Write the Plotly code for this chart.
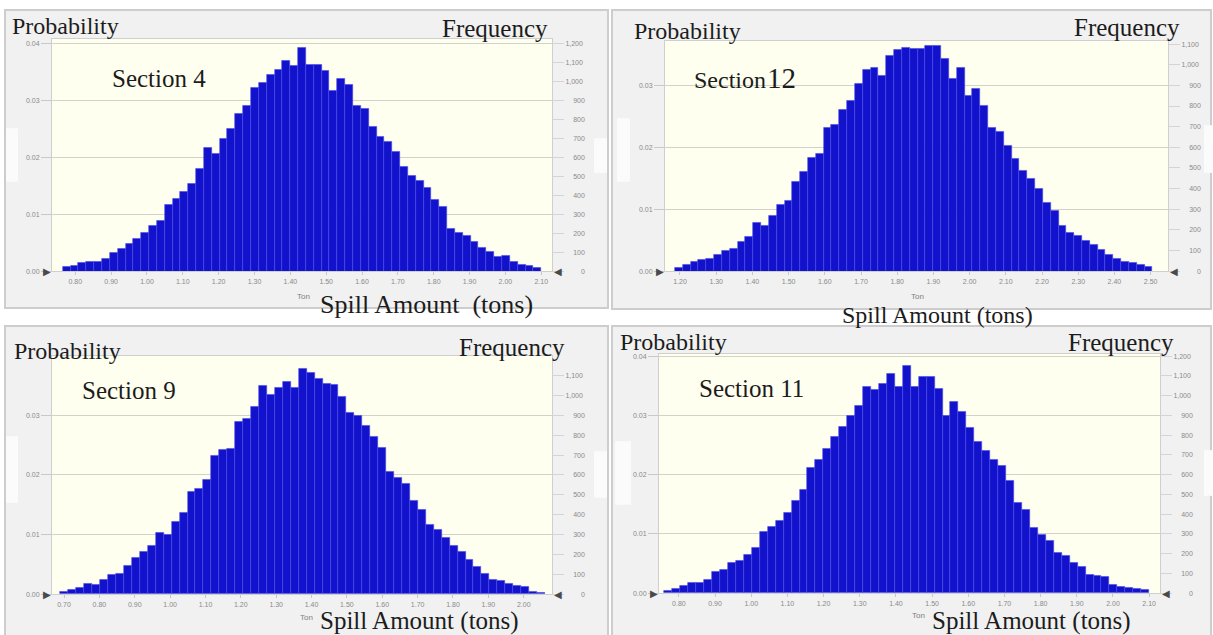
import numpy as np
import plotly.graph_objects as go

W, H = 1213, 635

# ---------------- data: probability per bin ----------------
sec4_prob = [0.0008, 0.0010, 0.0015, 0.0016, 0.0017, 0.0022, 0.0032, 0.0040, 0.0048, 0.0057,
             0.0068, 0.0080, 0.0088, 0.0117, 0.0127, 0.0139, 0.0153, 0.0180, 0.0216, 0.0207,
             0.0233, 0.0250, 0.0277, 0.0290, 0.0322, 0.0331, 0.0344, 0.0353, 0.0369, 0.0360,
             0.0392, 0.0363, 0.0363, 0.0351, 0.0316, 0.0338, 0.0328, 0.0290, 0.0285, 0.0254,
             0.0236, 0.0227, 0.0210, 0.0184, 0.0168, 0.0158, 0.0146, 0.0126, 0.0114, 0.0075,
             0.0068, 0.0062, 0.0052, 0.0042, 0.0034, 0.0025, 0.0028, 0.0017, 0.0012, 0.0010,
             0.0006]
sec12_prob = [0.0005, 0.0011, 0.0016, 0.0019, 0.0021, 0.0026, 0.0033, 0.0037, 0.0047, 0.0055,
              0.0078, 0.0074, 0.0089, 0.0107, 0.0114, 0.0145, 0.0160, 0.0184, 0.0189, 0.0232,
              0.0237, 0.0261, 0.0275, 0.0302, 0.0326, 0.0328, 0.0315, 0.0347, 0.0358, 0.0360,
              0.0359, 0.0359, 0.0364, 0.0364, 0.0343, 0.0310, 0.0328, 0.0283, 0.0294, 0.0267,
              0.0232, 0.0225, 0.0202, 0.0181, 0.0162, 0.0149, 0.0134, 0.0111, 0.0098, 0.0074,
              0.0063, 0.0058, 0.0050, 0.0043, 0.0034, 0.0026, 0.0020, 0.0015, 0.0013, 0.0010,
              0.0007]
sec9_prob = [0.0004, 0.0008, 0.0011, 0.0017, 0.0016, 0.0025, 0.0033, 0.0034, 0.0047, 0.0062,
             0.0072, 0.0082, 0.0103, 0.0100, 0.0121, 0.0136, 0.0172, 0.0177, 0.0192, 0.0233,
             0.0242, 0.0244, 0.0289, 0.0294, 0.0314, 0.0350, 0.0334, 0.0347, 0.0356, 0.0346,
             0.0379, 0.0371, 0.0362, 0.0353, 0.0351, 0.0332, 0.0304, 0.0300, 0.0283, 0.0264,
             0.0246, 0.0206, 0.0196, 0.0186, 0.0157, 0.0142, 0.0117, 0.0108, 0.0094, 0.0081,
             0.0071, 0.0058, 0.0046, 0.0034, 0.0025, 0.0023, 0.0017, 0.0014, 0.0012, 0.0004,
             0.0002]
sec11_prob = [0.0004, 0.0007, 0.0013, 0.0017, 0.0017, 0.0023, 0.0036, 0.0040, 0.0051, 0.0054,
              0.0065, 0.0076, 0.0104, 0.0112, 0.0123, 0.0136, 0.0156, 0.0174, 0.0211, 0.0225,
              0.0243, 0.0264, 0.0281, 0.0300, 0.0317, 0.0348, 0.0344, 0.0354, 0.0370, 0.0348,
              0.0383, 0.0348, 0.0366, 0.0366, 0.0345, 0.0300, 0.0323, 0.0307, 0.0280, 0.0255,
              0.0241, 0.0226, 0.0215, 0.0190, 0.0153, 0.0140, 0.0110, 0.0098, 0.0088, 0.0068,
              0.0064, 0.0051, 0.0044, 0.0031, 0.0030, 0.0027, 0.0014, 0.0011, 0.0010, 0.0007,
              0.0006]

# bin span (tons) of each histogram
sec4_span = [0.765, 2.100]
sec12_span = [1.186, 2.505]
sec9_span = [0.690, 2.060]
sec11_span = [0.760, 2.100]

trials = 30000  # frequency = probability * trials

sec4_xticks = [0.80, 0.90, 1.00, 1.10, 1.20, 1.30, 1.40, 1.50, 1.60, 1.70, 1.80, 1.90, 2.00, 2.10]
sec12_xticks = [1.20, 1.30, 1.40, 1.50, 1.60, 1.70, 1.80, 1.90, 2.00, 2.10, 2.20, 2.30, 2.40, 2.50]
sec9_xticks = [0.70, 0.80, 0.90, 1.00, 1.10, 1.20, 1.30, 1.40, 1.50, 1.60, 1.70, 1.80, 1.90, 2.00]
sec11_xticks = [0.80, 0.90, 1.00, 1.10, 1.20, 1.30, 1.40, 1.50, 1.60, 1.70, 1.80, 1.90, 2.00, 2.10]

prob_ticks_4 = [0.00, 0.01, 0.02, 0.03, 0.04]
prob_ticks_3 = [0.00, 0.01, 0.02, 0.03]
freq_ticks_1200 = [0, 100, 200, 300, 400, 500, 600, 700, 800, 900, 1000, 1100, 1200]
freq_ticks_1100 = [0, 100, 200, 300, 400, 500, 600, 700, 800, 900, 1000, 1100]

section_names = ["Section 4", "Section12", "Section 9", "Section 11"]

# ---------------- layout geometry (pixels) ----------------
panels = [
    dict(prob=sec4_prob, span=sec4_span, xt=sec4_xticks, lt=prob_ticks_4, rt=freq_ticks_1200,
         cream=(52, 552, 38, 272), xr=(0.735, 2.13), ytop=0.0408,
         box=(5, 608, 9, 309)),
    dict(prob=sec12_prob, span=sec12_span, xt=sec12_xticks, lt=prob_ticks_3, rt=freq_ticks_1100,
         cream=(665, 1168, 40, 272), xr=(1.1586, 2.548), ytop=0.0372,
         box=(612, 1211, 9, 310)),
    dict(prob=sec9_prob, span=sec9_span, xt=sec9_xticks, lt=prob_ticks_3, rt=freq_ticks_1100,
         cream=(52, 552, 357, 597), xr=(0.666, 2.08), ytop=0.0400,
         box=(5, 608, 327, 645)),
    dict(prob=sec11_prob, span=sec11_span, xt=sec11_xticks, lt=prob_ticks_4, rt=freq_ticks_1200,
         cream=(659, 1160, 355, 596), xr=(0.745, 2.13), ytop=0.0404,
         box=(612, 1211, 327, 645)),
]

SERIF = "Liberation Serif, Times New Roman, serif"
SANS = "Liberation Sans, Arial, sans-serif"
TXT = "#1c1c1c"
TICKC = "#8a8a8a"
BAR = "#1212cc"


def px(x):
    return x / W


def py(y):
    return 1 - y / H


def key(prefix, n):
    return prefix if n == 1 else f"{prefix}{n}"


def ref(letter, n):
    return letter if n == 1 else f"{letter}{n}"


def freq_label(v):
    return f"{v:,}".rjust(5, "\u2007")


fig = go.Figure()
layout = dict(width=W, height=H, margin=dict(l=0, r=0, t=0, b=0),
              paper_bgcolor="white", plot_bgcolor="rgba(0,0,0,0)",
              bargap=0, showlegend=False, shapes=[], annotations=[])

for i, p in enumerate(panels):
    xn, yl, yr = i + 1, 2 * i + 1, 2 * i + 2
    n = len(p["prob"])
    w = (p["span"][1] - p["span"][0]) / n
    centers = p["span"][0] + w * (np.arange(n) + 0.5)
    fig.add_trace(go.Bar(x=centers, y=p["prob"], width=w,
                         marker=dict(color=BAR, line=dict(color="#4a4ae8", width=0.6)),
                         xaxis=ref("x", xn), yaxis=ref("y", yl), hoverinfo="skip"))
    # frequency scale (same bars, counted): invisible carrier for the right-hand axis
    fig.add_trace(go.Scatter(x=centers, y=np.array(p["prob"]) * trials, mode="markers",
                             marker=dict(opacity=0, size=1), xaxis=ref("x", xn),
                             yaxis=ref("y", yr), hoverinfo="skip"))
    c0, c1, c2, c3 = p["cream"]
    layout[key("xaxis", xn)] = dict(
        domain=[px(c0), px(c1)], range=list(p["xr"]), anchor=ref("y", yl),
        tickvals=p["xt"], ticktext=[f"{v:.2f}" for v in p["xt"]],
        ticks="outside", ticklen=3, tickcolor="#c8c8c8",
        tickfont=dict(size=7, color=TICKC, family=SANS),
        showgrid=False, zeroline=False, showline=True, mirror=True,
        linecolor="#cfcfcf", fixedrange=True)
    layout[key("yaxis", yl)] = dict(
        domain=[py(c3), py(c2)], range=[0, p["ytop"]], anchor=ref("x", xn),
        tickvals=p["lt"], ticktext=[f"{v:.2f}" for v in p["lt"]],
        ticks="outside", ticklen=10, tickcolor="#c8c8c8",
        tickfont=dict(size=7, color=TICKC, family=SANS),
        showgrid=True, gridcolor="#d2d2c8", gridwidth=1, zeroline=False,
        showline=True, mirror=True, linecolor="#cfcfcf", fixedrange=True)
    layout[key("yaxis", yr)] = dict(
        overlaying=ref("y", yl), side="right", anchor=ref("x", xn),
        range=[0, p["ytop"] * trials],
        tickvals=p["rt"], ticktext=[freq_label(v) for v in p["rt"]],
        ticks="outside", ticklen=11, tickcolor="#d4d4d4",
        tickfont=dict(size=7, color=TICKC, family=SANS),
        showgrid=False, zeroline=False, showline=False, fixedrange=True)

    b0, b1, b2, b3 = p["box"]
    layout["shapes"].append(dict(type="rect", xref="paper", yref="paper",
                                 x0=px(b0), x1=px(b1), y0=py(b3), y1=py(b2),
                                 fillcolor="#f1f1f1", line=dict(color="#cdcdcd", width=2),
                                 layer="below"))
    layout["shapes"].append(dict(type="rect", xref="paper", yref="paper",
                                 x0=px(c0), x1=px(c1), y0=py(c3), y1=py(c2),
                                 fillcolor="#fffff0", line=dict(width=0), layer="below"))
    # baseline arrow markers
    layout["annotations"].append(dict(text="▶", xref="paper", yref="paper",
                                      x=px(c0 - 5), y=py(c3), xanchor="center", yanchor="middle",
                                      showarrow=False, font=dict(size=10, color="#4a4a4a",
                                                                 family="DejaVu Sans")))
    layout["annotations"].append(dict(text="◀", xref="paper", yref="paper",
                                      x=px(c1 + 6), y=py(c3), xanchor="center", yanchor="middle",
                                      showarrow=False, font=dict(size=10, color="#4a4a4a",
                                                                 family="DejaVu Sans")))

# faint white patches on the panel edges
patches = [(6, 18, 128, 182), (594, 607, 138, 173), (617, 630, 118, 182), (1204, 1212, 125, 173),
           (6, 18, 438, 505), (594, 607, 453, 500), (615, 631, 443, 507), (1204, 1212, 452, 498)]
for (a, b, c, d) in patches:
    layout["shapes"].append(dict(type="rect", xref="paper", yref="paper",
                                 x0=px(a), x1=px(b), y0=py(d), y1=py(c),
                                 fillcolor="#fbfbfb", line=dict(width=0), layer="below"))

texts = [
    ("Probability", 10, 25, "left", 24, SERIF, TXT),
    ("Frequency", 550, 28, "right", 25, SERIF, TXT),
    (section_names[0], 110, 78, "left", 25, SERIF, TXT),
    ("Ton", 303, 297, "center", 8, SANS, "#808080"),
    ("Spill Amount\u00a0 (tons)", 318, 305, "left", 26, SERIF, TXT),

    ("Probability", 632, 30, "left", 24, SERIF, TXT),
    ("Frequency", 1182, 27, "right", 25, SERIF, TXT),
    (section_names[1][:7], 692, 79, "left", 24, SERIF, TXT),
    (section_names[1][7:], 765, 77, "left", 29, SERIF, TXT),
    ("Ton", 917, 297, "center", 8, SANS, "#808080"),
    ("Spill Amount (tons)", 840, 316, "left", 24, SERIF, TXT),

    ("Probability", 12, 352, "left", 24, SERIF, TXT),
    ("Frequency", 567, 349, "right", 25, SERIF, TXT),
    (section_names[2], 80, 392, "left", 25, SERIF, TXT),
    ("Ton", 306, 620, "center", 8, SANS, "#808080"),
    ("Spill Amount (tons)", 318, 624, "left", 25, SERIF, TXT),

    ("Probability", 618, 343, "left", 24, SERIF, TXT),
    ("Frequency", 1176, 344, "right", 25, SERIF, TXT),
    (section_names[3], 697, 390, "left", 25, SERIF, TXT),
    ("Ton", 918, 618, "center", 8, SANS, "#808080"),
    ("Spill Amount (tons)", 930, 624, "left", 25, SERIF, TXT),
]
for (t, x, y, anc, size, fam, col) in texts:
    layout["annotations"].append(dict(text=t, xref="paper", yref="paper", x=px(x), y=py(y),
                                      xanchor=anc, yanchor="middle", showarrow=False,
                                      font=dict(size=size, family=fam, color=col)))

fig.update_layout(**layout)
fig.write_html("out.html", config={"displayModeBar": False},
               post_script="document.body.style.margin='0';document.body.style.overflow='hidden';")
